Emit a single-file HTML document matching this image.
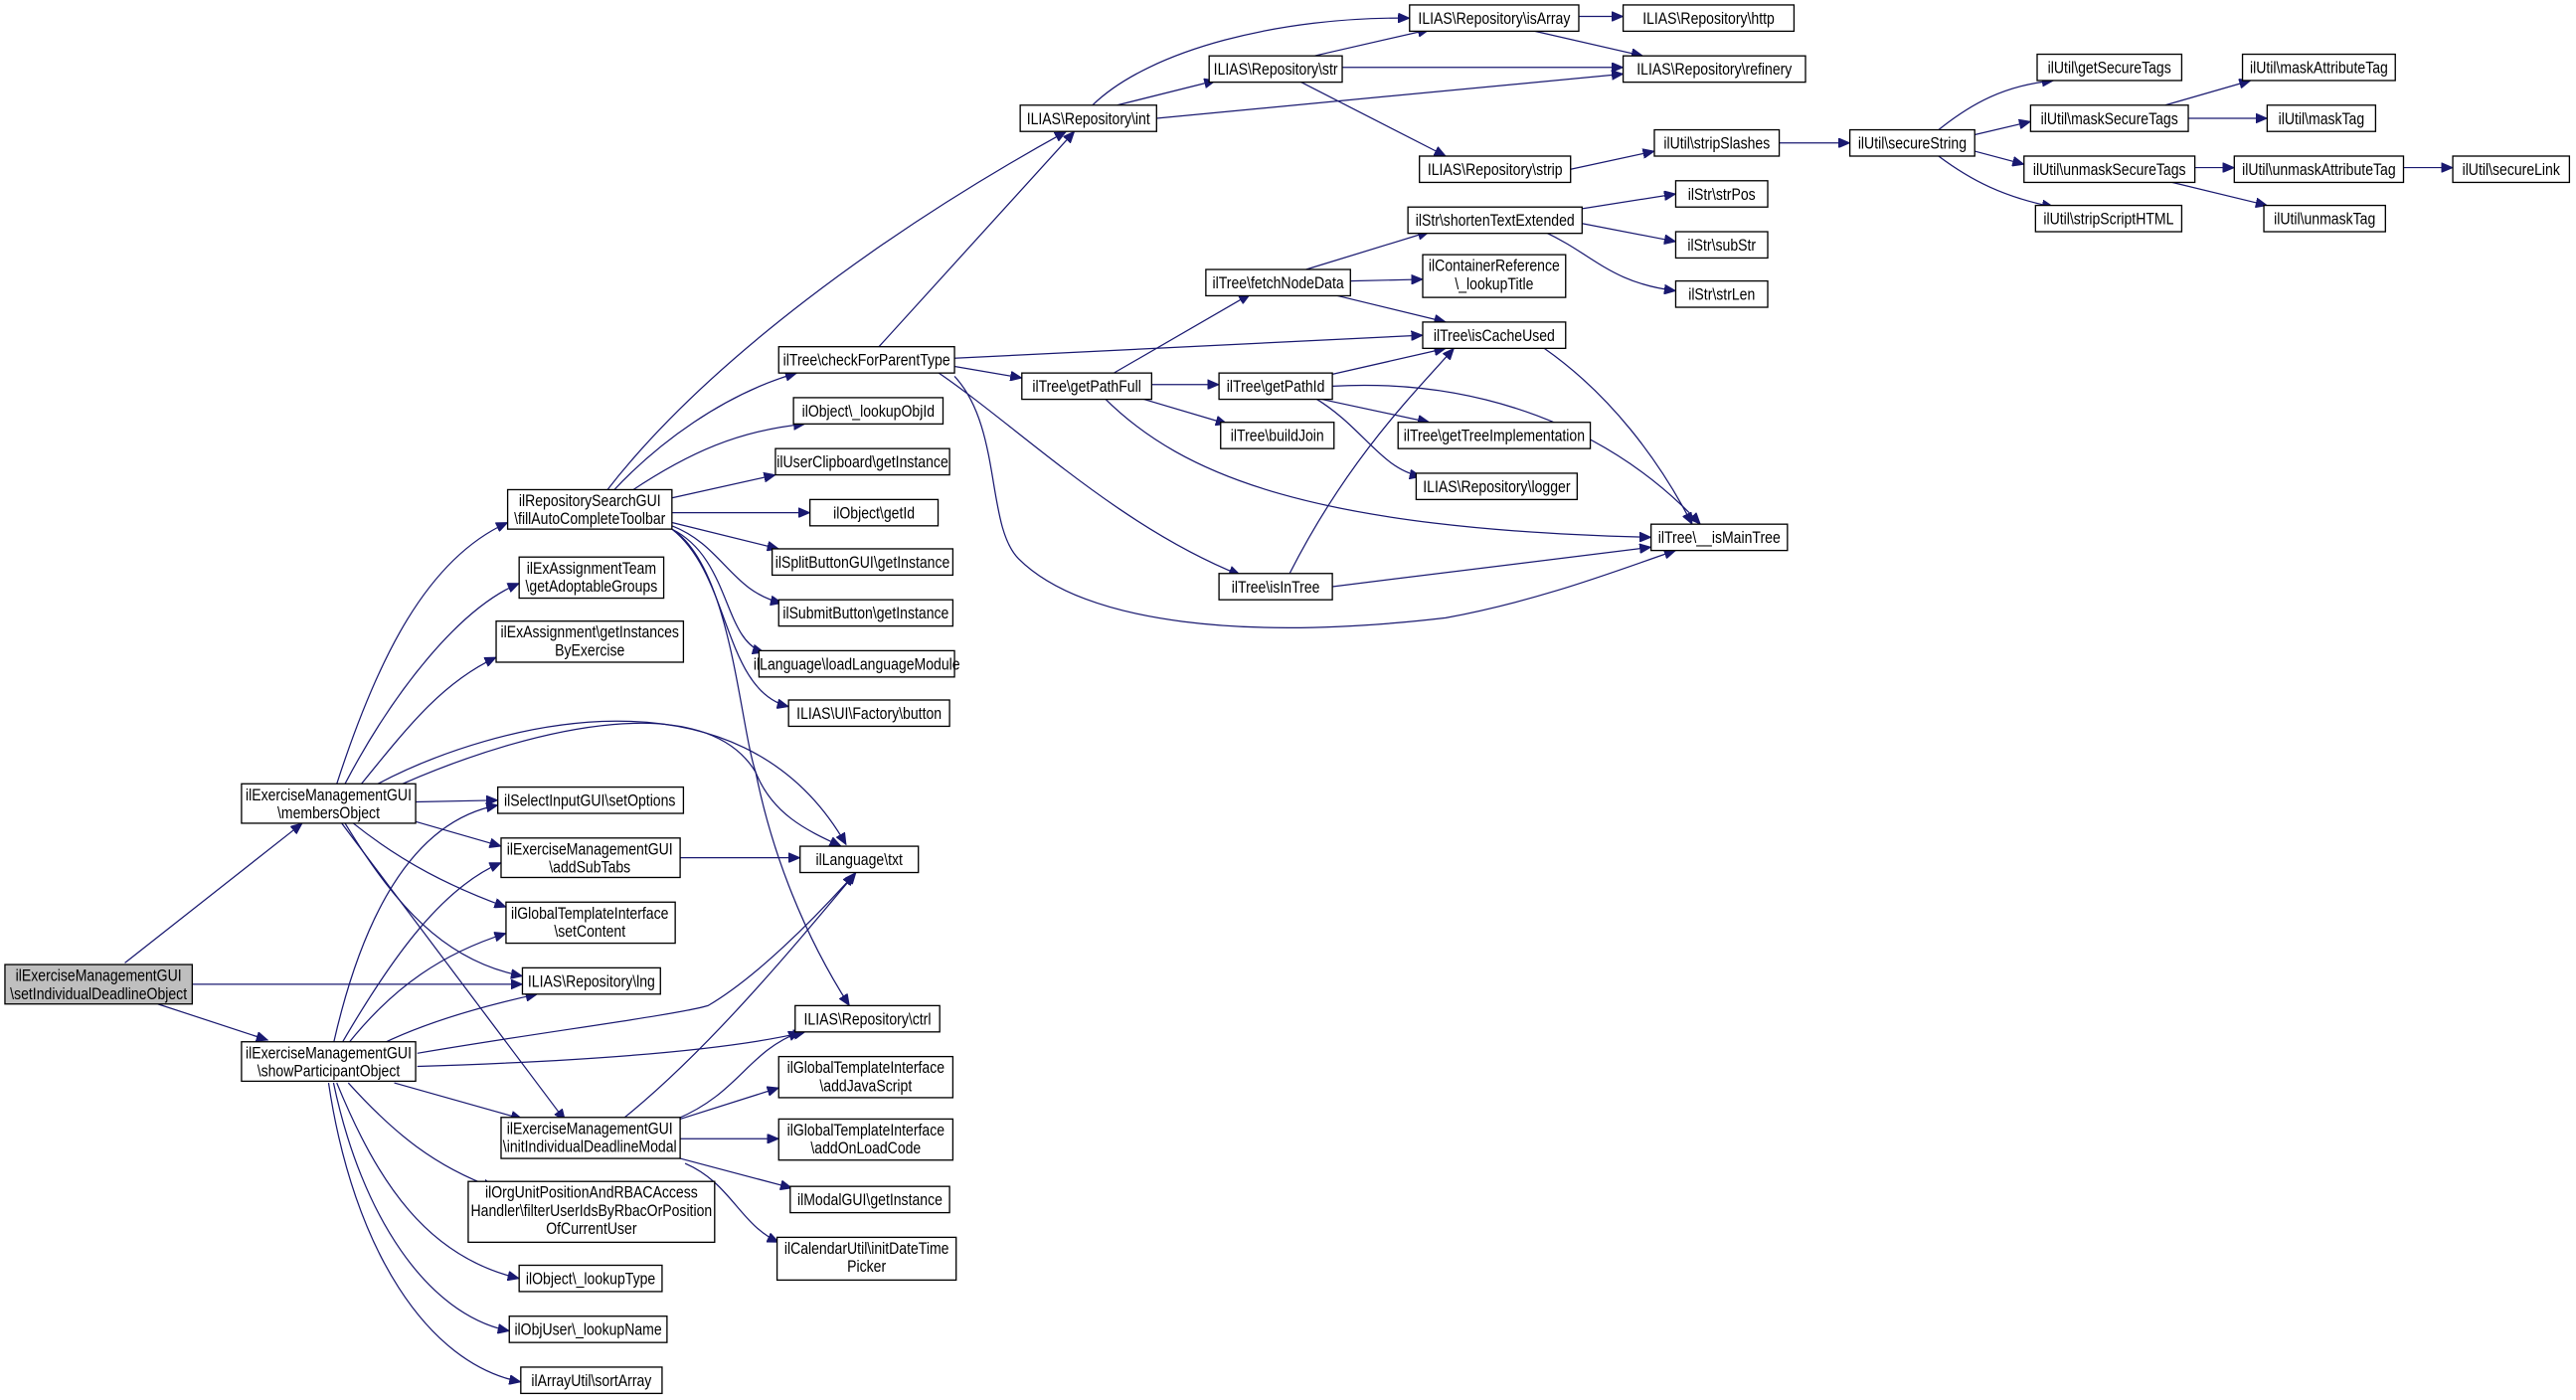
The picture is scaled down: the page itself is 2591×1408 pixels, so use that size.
<!DOCTYPE html>
<html><head><meta charset="utf-8"><style>
html,body{margin:0;padding:0;background:#fff;}
svg{display:block;}
text{font-family:"Liberation Sans",sans-serif;font-size:10px;fill:#000;text-anchor:middle;}
rect{fill:#fff;stroke:#000;stroke-width:0.8;}
path{fill:none;stroke:#191970;stroke-width:0.75;}
</style></head><body>
<svg width="2591" height="1408" viewBox="0 0 1568 852" preserveAspectRatio="none" xmlns="http://www.w3.org/2000/svg">
<defs><marker id="a" markerUnits="userSpaceOnUse" markerWidth="8" markerHeight="6" refX="7" refY="3" orient="auto"><path d="M0,0 L7,3 L0,6 Z" style="fill:#191970;stroke:#191970;stroke-width:0.5"/></marker></defs>
<g marker-end="url(#a)">
<path d="M76,586 L184,501"/>
<path d="M117,599 L318,599"/>
<path d="M96,611 L163,633"/>
<path d="M205,477 C230,400 260,340 309,318"/>
<path d="M210,477 C240,420 280,370 316,355"/>
<path d="M220,477 C250,440 270,415 302,400"/>
<path d="M230,477 C300,440 450,400 515,514"/>
<path d="M245,477 C330,440 430,420 460,470 C470,520 490,570 517,612"/>
<path d="M253,488 L303,487"/>
<path d="M253,500 L305,515"/>
<path d="M215,501 C245,525 275,540 308,552"/>
<path d="M210,501 C240,550 270,585 318,594"/>
<path d="M208,501 L344,682"/>
<path d="M203,635 C220,560 250,500 303,490"/>
<path d="M208,635 C240,580 270,540 305,525"/>
<path d="M212,635 C240,600 270,580 308,568"/>
<path d="M233,635 C260,622 295,612 327,605"/>
<path d="M254,641 C330,628 410,618 431,612 C460,595 495,560 520,532"/>
<path d="M254,649 C350,646 440,640 490,628"/>
<path d="M240,659 L318,681"/>
<path d="M212,659 C240,690 265,710 301,723"/>
<path d="M205,659 C230,720 260,765 316,778"/>
<path d="M203,659 C220,740 260,800 310,810"/>
<path d="M200,659 C215,760 260,830 317,841"/>
<path d="M369,299 C430,220 540,140 649,80"/>
<path d="M373,299 C400,270 440,240 485,227"/>
<path d="M535,211 L654,80"/>
<path d="M384,299 C420,275 450,262 490,258"/>
<path d="M409,303 L472,289"/>
<path d="M409,312 L493,312"/>
<path d="M409,318 L474,334"/>
<path d="M409,320 C440,332 445,360 476,367"/>
<path d="M409,322 C445,340 440,390 465,397"/>
<path d="M409,322 C445,350 440,420 480,430"/>
<path d="M409,322 C445,345 450,440 460,470 C470,495 490,505 512,515"/>
<path d="M414,522 L487,522"/>
<path d="M379,681 C430,640 480,580 521,531"/>
<path d="M412,681 C450,665 455,640 487,628"/>
<path d="M414,681 L474,662"/>
<path d="M414,693 L474,693"/>
<path d="M414,705 L482,723"/>
<path d="M417,708 C445,720 450,745 474,756"/>
<path d="M581,218 L866,204"/>
<path d="M581,223 L622,230"/>
<path d="M570,226 C620,260 680,320 755,350"/>
<path d="M581,229 C610,260 600,320 620,340 C660,380 760,390 880,376 C940,365 990,345 1020,335"/>
<path d="M678,227 L761,179"/>
<path d="M701,234 L742,234"/>
<path d="M693,242 L747,258"/>
<path d="M672,242 C720,290 800,322 1005,327"/>
<path d="M795,164 L870,141"/>
<path d="M822,171 L866,170"/>
<path d="M810,179 L880,196"/>
<path d="M810,228 L880,212"/>
<path d="M800,242 L870,257"/>
<path d="M800,242 C830,260 840,285 865,290"/>
<path d="M811,235 C900,230 980,260 1035,319"/>
<path d="M785,349 C820,280 860,240 885,212"/>
<path d="M811,357 L1005,333"/>
<path d="M940,212 C980,240 1010,280 1030,319"/>
<path d="M963,127 L1020,118"/>
<path d="M963,136 L1020,147"/>
<path d="M940,141 C970,155 980,172 1020,177"/>
<path d="M680,64 L740,49"/>
<path d="M665,64 C700,30 780,10 858,11"/>
<path d="M704,72 L988,45"/>
<path d="M800,34 L870,18"/>
<path d="M817,41 L988,41"/>
<path d="M790,49 L880,95"/>
<path d="M961,10 L988,10"/>
<path d="M930,18 L1000,34"/>
<path d="M956,103 L1007,92"/>
<path d="M1083,87 L1126,87"/>
<path d="M1180,79 C1200,63 1220,52 1250,49"/>
<path d="M1202,82 L1236,74"/>
<path d="M1202,92 L1232,100"/>
<path d="M1180,95 C1200,110 1220,120 1250,126"/>
<path d="M1318,64 L1370,49"/>
<path d="M1332,72 L1380,72"/>
<path d="M1336,102 L1360,102"/>
<path d="M1318,110 L1380,125"/>
<path d="M1463,102 L1493,102"/>
</g>
<g>
<rect x="3" y="587" width="114" height="24" style="fill:#bfbfbf"/>
<text transform="translate(60,597) scale(0.85,1)">ilExerciseManagementGUI</text>
<text transform="translate(60,608) scale(0.85,1)">\setIndividualDeadlineObject</text>
<rect x="147" y="477" width="106" height="24"/>
<text transform="translate(200,487) scale(0.85,1)">ilExerciseManagementGUI</text>
<text transform="translate(200,498) scale(0.85,1)">\membersObject</text>
<rect x="147" y="634" width="106" height="24"/>
<text transform="translate(200,644) scale(0.85,1)">ilExerciseManagementGUI</text>
<text transform="translate(200,655) scale(0.85,1)">\showParticipantObject</text>
<rect x="309" y="298" width="100" height="24"/>
<text transform="translate(359,308) scale(0.85,1)">ilRepositorySearchGUI</text>
<text transform="translate(359,319) scale(0.85,1)">\fillAutoCompleteToolbar</text>
<rect x="316" y="339" width="88" height="25"/>
<text transform="translate(360,349) scale(0.85,1)">ilExAssignmentTeam</text>
<text transform="translate(360,360) scale(0.85,1)">\getAdoptableGroups</text>
<rect x="302" y="378" width="114" height="25"/>
<text transform="translate(359,388) scale(0.85,1)">ilExAssignment\getInstances</text>
<text transform="translate(359,399) scale(0.85,1)">ByExercise</text>
<rect x="303" y="479" width="113" height="16"/>
<text transform="translate(359,490.5) scale(0.85,1)">ilSelectInputGUI\setOptions</text>
<rect x="305" y="510" width="109" height="24"/>
<text transform="translate(359,520) scale(0.85,1)">ilExerciseManagementGUI</text>
<text transform="translate(359,531) scale(0.85,1)">\addSubTabs</text>
<rect x="308" y="549" width="103" height="25"/>
<text transform="translate(359,559) scale(0.85,1)">ilGlobalTemplateInterface</text>
<text transform="translate(359,570) scale(0.85,1)">\setContent</text>
<rect x="318" y="589" width="84" height="16"/>
<text transform="translate(360,600.5) scale(0.85,1)">ILIAS\Repository\lng</text>
<rect x="305" y="680" width="109" height="25"/>
<text transform="translate(359,690) scale(0.85,1)">ilExerciseManagementGUI</text>
<text transform="translate(359,701) scale(0.85,1)">\initIndividualDeadlineModal</text>
<rect x="285" y="719" width="150" height="37"/>
<text transform="translate(360,729) scale(0.85,1)">ilOrgUnitPositionAndRBACAccess</text>
<text transform="translate(360,740) scale(0.85,1)">Handler\filterUserIdsByRbacOrPosition</text>
<text transform="translate(360,751) scale(0.85,1)">OfCurrentUser</text>
<rect x="316" y="770" width="87" height="16"/>
<text transform="translate(359.5,781.5) scale(0.85,1)">ilObject\_lookupType</text>
<rect x="310" y="801" width="96" height="16"/>
<text transform="translate(358,812.5) scale(0.85,1)">ilObjUser\_lookupName</text>
<rect x="317" y="832" width="86" height="16"/>
<text transform="translate(360,843.5) scale(0.85,1)">ilArrayUtil\sortArray</text>
<rect x="487" y="515" width="72" height="16"/>
<text transform="translate(523,526.5) scale(0.85,1)">ilLanguage\txt</text>
<rect x="484" y="612" width="88" height="16"/>
<text transform="translate(528,623.5) scale(0.85,1)">ILIAS\Repository\ctrl</text>
<rect x="474" y="643" width="106" height="25"/>
<text transform="translate(527,653) scale(0.85,1)">ilGlobalTemplateInterface</text>
<text transform="translate(527,664) scale(0.85,1)">\addJavaScript</text>
<rect x="474" y="681" width="106" height="25"/>
<text transform="translate(527,691) scale(0.85,1)">ilGlobalTemplateInterface</text>
<text transform="translate(527,702) scale(0.85,1)">\addOnLoadCode</text>
<rect x="481" y="722" width="97" height="16"/>
<text transform="translate(529.5,733.5) scale(0.85,1)">ilModalGUI\getInstance</text>
<rect x="473" y="753" width="109" height="26"/>
<text transform="translate(527.5,763) scale(0.85,1)">ilCalendarUtil\initDateTime</text>
<text transform="translate(527.5,774) scale(0.85,1)">Picker</text>
<rect x="474" y="211" width="107" height="16"/>
<text transform="translate(527.5,222.5) scale(0.85,1)">ilTree\checkForParentType</text>
<rect x="483" y="242" width="91" height="16"/>
<text transform="translate(528.5,253.5) scale(0.85,1)">ilObject\_lookupObjId</text>
<rect x="472" y="273" width="106" height="16"/>
<text transform="translate(525,284.5) scale(0.85,1)">ilUserClipboard\getInstance</text>
<rect x="493" y="304" width="78" height="16"/>
<text transform="translate(532,315.5) scale(0.85,1)">ilObject\getId</text>
<rect x="470" y="334" width="110" height="16"/>
<text transform="translate(525,345.5) scale(0.85,1)">ilSplitButtonGUI\getInstance</text>
<rect x="474" y="365" width="106" height="16"/>
<text transform="translate(527,376.5) scale(0.85,1)">ilSubmitButton\getInstance</text>
<rect x="462" y="396" width="119" height="16"/>
<text transform="translate(521.5,407.5) scale(0.85,1)">ilLanguage\loadLanguageModule</text>
<rect x="480" y="426" width="98" height="16"/>
<text transform="translate(529,437.5) scale(0.85,1)">ILIAS\UI\Factory\button</text>
<rect x="621" y="64" width="83" height="16"/>
<text transform="translate(662.5,75.5) scale(0.85,1)">ILIAS\Repository\int</text>
<rect x="736" y="34" width="81" height="16"/>
<text transform="translate(776.5,45.5) scale(0.85,1)">ILIAS\Repository\str</text>
<rect x="858" y="3" width="103" height="16"/>
<text transform="translate(909.5,14.5) scale(0.85,1)">ILIAS\Repository\isArray</text>
<rect x="988" y="3" width="104" height="16"/>
<text transform="translate(1040,14.5) scale(0.85,1)">ILIAS\Repository\http</text>
<rect x="988" y="34" width="111" height="16"/>
<text transform="translate(1043.5,45.5) scale(0.85,1)">ILIAS\Repository\refinery</text>
<rect x="864" y="95" width="92" height="16"/>
<text transform="translate(910,106.5) scale(0.85,1)">ILIAS\Repository\strip</text>
<rect x="622" y="227" width="79" height="16"/>
<text transform="translate(661.5,238.5) scale(0.85,1)">ilTree\getPathFull</text>
<rect x="734" y="164" width="88" height="16"/>
<text transform="translate(778,175.5) scale(0.85,1)">ilTree\fetchNodeData</text>
<rect x="742" y="227" width="69" height="16"/>
<text transform="translate(776.5,238.5) scale(0.85,1)">ilTree\getPathId</text>
<rect x="743" y="257" width="69" height="16"/>
<text transform="translate(777.5,268.5) scale(0.85,1)">ilTree\buildJoin</text>
<rect x="742" y="349" width="69" height="16"/>
<text transform="translate(776.5,360.5) scale(0.85,1)">ilTree\isInTree</text>
<rect x="857" y="126" width="106" height="16"/>
<text transform="translate(910,137.5) scale(0.85,1)">ilStr\shortenTextExtended</text>
<rect x="866" y="155" width="87" height="26"/>
<text transform="translate(909.5,165) scale(0.85,1)">ilContainerReference</text>
<text transform="translate(909.5,176) scale(0.85,1)">\_lookupTitle</text>
<rect x="866" y="196" width="87" height="16"/>
<text transform="translate(909.5,207.5) scale(0.85,1)">ilTree\isCacheUsed</text>
<rect x="851" y="257" width="117" height="16"/>
<text transform="translate(909.5,268.5) scale(0.85,1)">ilTree\getTreeImplementation</text>
<rect x="862" y="288" width="98" height="16"/>
<text transform="translate(911,299.5) scale(0.85,1)">ILIAS\Repository\logger</text>
<rect x="1005" y="319" width="83" height="16"/>
<text transform="translate(1046.5,330.5) scale(0.85,1)">ilTree\__isMainTree</text>
<rect x="1020" y="110" width="56" height="16"/>
<text transform="translate(1048,121.5) scale(0.85,1)">ilStr\strPos</text>
<rect x="1020" y="141" width="56" height="16"/>
<text transform="translate(1048,152.5) scale(0.85,1)">ilStr\subStr</text>
<rect x="1020" y="171" width="56" height="16"/>
<text transform="translate(1048,182.5) scale(0.85,1)">ilStr\strLen</text>
<rect x="1007" y="79" width="76" height="16"/>
<text transform="translate(1045,90.5) scale(0.85,1)">ilUtil\stripSlashes</text>
<rect x="1126" y="79" width="76" height="16"/>
<text transform="translate(1164,90.5) scale(0.85,1)">ilUtil\secureString</text>
<rect x="1240" y="33" width="88" height="16"/>
<text transform="translate(1284,44.5) scale(0.85,1)">ilUtil\getSecureTags</text>
<rect x="1236" y="64" width="96" height="16"/>
<text transform="translate(1284,75.5) scale(0.85,1)">ilUtil\maskSecureTags</text>
<rect x="1232" y="95" width="104" height="16"/>
<text transform="translate(1284,106.5) scale(0.85,1)">ilUtil\unmaskSecureTags</text>
<rect x="1239" y="125" width="89" height="16"/>
<text transform="translate(1283.5,136.5) scale(0.85,1)">ilUtil\stripScriptHTML</text>
<rect x="1365" y="33" width="93" height="16"/>
<text transform="translate(1411.5,44.5) scale(0.85,1)">ilUtil\maskAttributeTag</text>
<rect x="1380" y="64" width="66" height="16"/>
<text transform="translate(1413,75.5) scale(0.85,1)">ilUtil\maskTag</text>
<rect x="1360" y="95" width="103" height="16"/>
<text transform="translate(1411.5,106.5) scale(0.85,1)">ilUtil\unmaskAttributeTag</text>
<rect x="1378" y="125" width="74" height="16"/>
<text transform="translate(1415,136.5) scale(0.85,1)">ilUtil\unmaskTag</text>
<rect x="1493" y="95" width="71" height="16"/>
<text transform="translate(1528.5,106.5) scale(0.85,1)">ilUtil\secureLink</text>
</g>
</svg>
</body></html>
